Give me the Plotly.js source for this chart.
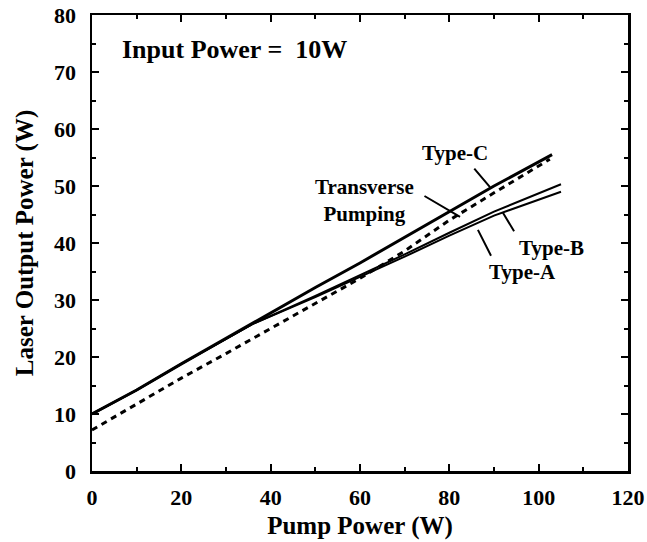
<!DOCTYPE html>
<html>
<head>
<meta charset="utf-8">
<script src="https://cdn.plot.ly/plotly-3.0.1.min.js"></script>
<style>html,body{margin:0;padding:0;background:#fff;}#chart{width:647px;height:542px;}</style>
</head>
<body>
<div id="chart"></div>
<script>
// Data
const typeC_x = [0, 10, 20, 30, 36, 50, 60, 70, 80, 90, 103];
const typeC_y = [10, 14.2, 18.8, 23.3, 26, 32.2, 36.5, 41, 45.5, 50, 55.5];
const typeB_x = [0, 10, 20, 30, 36, 50, 60, 70, 80, 90, 105];
const typeB_y = [10, 14.2, 18.8, 23.2, 25.8, 30.7, 34.3, 38, 41.8, 45.5, 50.3];
const typeA_x = [0, 10, 20, 30, 36, 50, 60, 70, 80, 90, 105];
const typeA_y = [10, 14.2, 18.8, 23.2, 25.8, 30.5, 34, 37.6, 41.3, 44.8, 49];
const trans_x = [0, 10, 20, 30, 40, 50, 60, 70, 80, 90, 102.5];
const trans_y = [7.2, 11.7, 16.3, 20.6, 25, 29.5, 33.8, 38.6, 44, 48.8, 54.7];

const xTicks = [0, 20, 40, 60, 80, 100, 120];
const yTicks = [0, 10, 20, 30, 40, 50, 60, 70, 80];

const serif = "Liberation Serif, Times New Roman, serif";
const tickFont = {family: serif, size: 22, color: "#000", weight: "bold"};
const labelFont = {family: serif, size: 21, color: "#000", weight: "bold"};
const titleFont = {family: serif, size: 25, color: "#000", weight: "bold"};

const traces = [
  {x: typeA_x, y: typeA_y, mode: "lines", line: {color: "#000", width: 2}, name: "Type-A"},
  {x: typeB_x, y: typeB_y, mode: "lines", line: {color: "#000", width: 2}, name: "Type-B"},
  {x: typeC_x, y: typeC_y, mode: "lines", line: {color: "#000", width: 3}, name: "Type-C"},
  {x: trans_x, y: trans_y, mode: "lines", line: {color: "#000", width: 3, dash: "6px,5px"}, name: "Transverse Pumping"}
];

function leader(x0, y0, x1, y1) {
  return {x: x1, y: y1, ax: x0, ay: y0, axref: "x", ayref: "y", xref: "x", yref: "y",
          text: "", showarrow: true, arrowhead: 0, arrowwidth: 2, arrowcolor: "#000",
          standoff: 0, startstandoff: 0};
}
function label(x, y, t) {
  return {x: x, y: y, xref: "x", yref: "y", text: t, showarrow: false, font: labelFont};
}

const layout = {
  width: 647, height: 542,
  margin: {l: 92, r: 19, t: 15, b: 71},
  paper_bgcolor: "#fff", plot_bgcolor: "#fff",
  showlegend: false,
  xaxis: {
    range: [0, 120], tickvals: xTicks, ticktext: xTicks.map(String),
    ticks: "inside", ticklen: 7, tickwidth: 2, tickcolor: "#000",
    minor: {dtick: 10, tick0: 0, ticks: "inside", ticklen: 4, tickwidth: 2, tickcolor: "#000"},
    showline: true, linewidth: 2.5, linecolor: "#000", mirror: "allticks",
    showgrid: false, zeroline: false,
    tickfont: tickFont, ticklabelstandoff: 5,
    title: {text: "Pump Power (W)", font: titleFont, standoff: 8}
  },
  yaxis: {
    range: [0, 80], tickvals: yTicks, ticktext: yTicks.map(String),
    ticks: "inside", ticklen: 7, tickwidth: 2, tickcolor: "#000",
    minor: {dtick: 5, tick0: 0, ticks: "inside", ticklen: 4, tickwidth: 2, tickcolor: "#000"},
    showline: true, linewidth: 2.5, linecolor: "#000", mirror: "allticks",
    showgrid: false, zeroline: false,
    tickfont: tickFont, ticklabelstandoff: 9,
    title: {text: "Laser Output Power (W)", font: titleFont, standoff: 14}
  },
  annotations: [
    {x: 6.3, y: 73.9, xref: "x", yref: "y", xanchor: "left", text: "Input Power =  10W", showarrow: false,
     font: {family: serif, size: 26, color: "#000", weight: "bold"}},
    label(81.3, 55.8, "Type-C"),
    label(61.1, 47.5, "Transverse<br>Pumping"),
    label(102.8, 39.1, "Type-B"),
    label(96.3, 34.9, "Type-A"),
    leader(85.3, 53.3, 89.1, 49.8),
    leader(74.1, 48.4, 82.4, 44.6),
    leader(94.7, 41.8, 92.0, 45.3),
    leader(89.5, 37.5, 86.4, 42.3)
  ]
};

Plotly.newPlot("chart", traces, layout, {displayModeBar: false, staticPlot: true});
</script>
</body>
</html>
